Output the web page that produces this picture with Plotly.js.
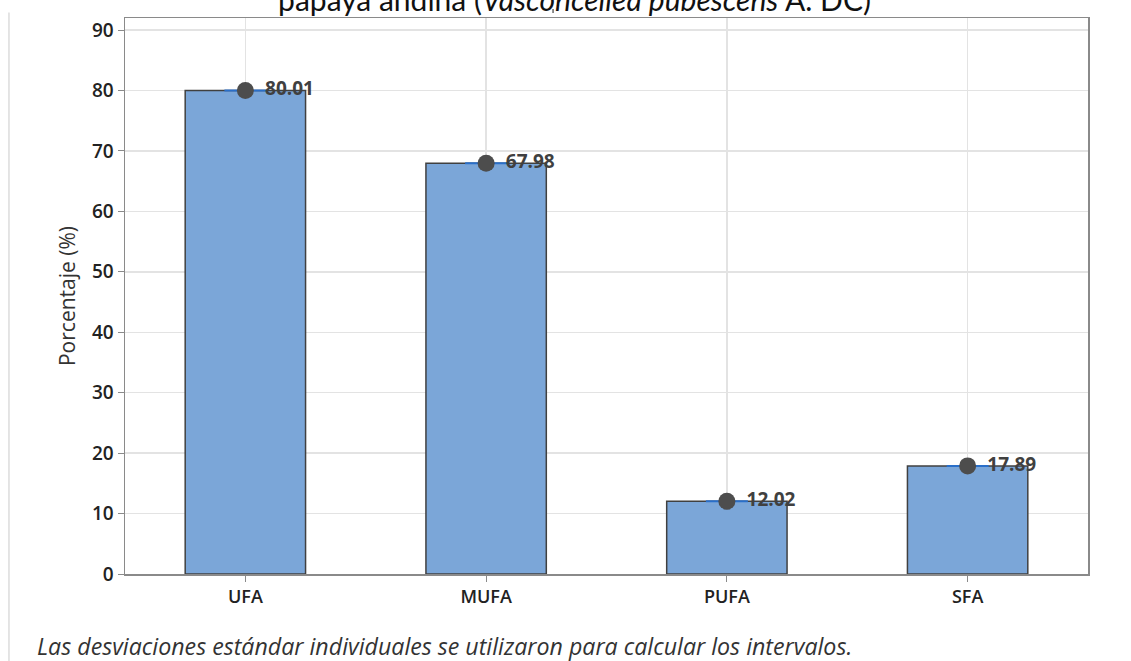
<!DOCTYPE html>
<html><head><meta charset="utf-8">
<script src="https://cdn.plot.ly/plotly-3.0.1.min.js"></script>
<style>html,body{margin:0;padding:0;background:#fff}#chart{width:1131px;height:661px}</style>
</head><body><div id="chart"></div>
<script>
const categories = ["UFA", "MUFA", "PUFA", "SFA"];
const values = [80.01, 67.98, 12.02, 17.89];
const labels = ["80.01", "67.98", "12.02", "17.89"];
const errors = [0, 0, 0, 0];
const yTicks = [0, 10, 20, 30, 40, 50, 60, 70, 80, 90];

const bar = {
  type: "bar", x: categories, y: values, width: 0.5,
  marker: {color: "#7ba6d8", line: {color: "#404040", width: 1.5}},
  hoverinfo: "skip", showlegend: false
};
const pts = {
  type: "scatter", mode: "markers+text", x: categories, y: values,
  text: labels, texttemplate: "\u2009 %{text}", textposition: "middle right",
  textfont: {family: "Open Sans, sans-serif", size: 19, color: "#404040", weight: 700},
  marker: {color: "#4d4d4d", size: 17},
  error_y: {type: "data", array: errors, visible: true, width: 21, thickness: 2, color: "#2a6fc9"},
  showlegend: false, cliponaxis: false
};

const layout = {
  width: 1131, height: 661,
  margin: {l: 125, r: 43, t: 18, b: 87},
  paper_bgcolor: "#fff", plot_bgcolor: "#fff",
  font: {family: "Open Sans, sans-serif", color: "#222"},
  title: {
    text: "papaya andina (<i>Vasconcellea pubescens</i> A. DC)",
    font: {family: "Lato, sans-serif", size: 30, color: "#111"},
    x: 0.508, xanchor: "center", yref: "container", y: 0.9995, yanchor: "middle"
  },
  xaxis: {
    range: [-0.5, 3.5], showgrid: true, gridcolor: "#e3e3e3", gridwidth: 1.5,
    showline: true, linecolor: "#8a8a8a", linewidth: 1.5, mirror: true,
    ticks: "outside", ticklen: 6, tickcolor: "#8a8a8a",
    tickfont: {size: 18, color: "#222", weight: 600}, fixedrange: true
  },
  yaxis: {
    range: [0, 92], tickvals: yTicks, ticktext: yTicks.map(String),
    showgrid: true, gridcolor: "#e3e3e3", gridwidth: 1.5, zeroline: false,
    showline: true, linecolor: "#8a8a8a", linewidth: 1.5, mirror: true,
    ticks: "outside", ticklen: 6, tickcolor: "#8a8a8a",
    tickfont: {size: 19, color: "#222", weight: 600},
    title: {text: "Porcentaje (%)", font: {size: 21, color: "#333"}, standoff: 10},
    fixedrange: true
  },
  shapes: [
    {type: "line", xref: "paper", yref: "paper", x0: -0.1205, x1: -0.1205, y0: 1.01, y1: -0.16,
     line: {color: "#dcdcdc", width: 1.5}},
    {type: "line", xref: "paper", yref: "paper", x0: 0.4445, x1: 0.4445, y0: 1.009, y1: 1.016,
     line: {color: "#666", width: 1.5}}
  ],
  annotations: [
    {text: "<i>Las desviaciones estándar individuales se utilizaron para calcular los intervalos.</i>",
     xref: "paper", yref: "paper", x: -0.0935, y: -0.13, xanchor: "left", yanchor: "middle",
     showarrow: false, font: {family: "Open Sans, sans-serif", size: 23.2, color: "#333"}}
  ]
};
Plotly.newPlot("chart", [bar, pts], layout, {displayModeBar: false, staticPlot: true});
</script></body></html>
